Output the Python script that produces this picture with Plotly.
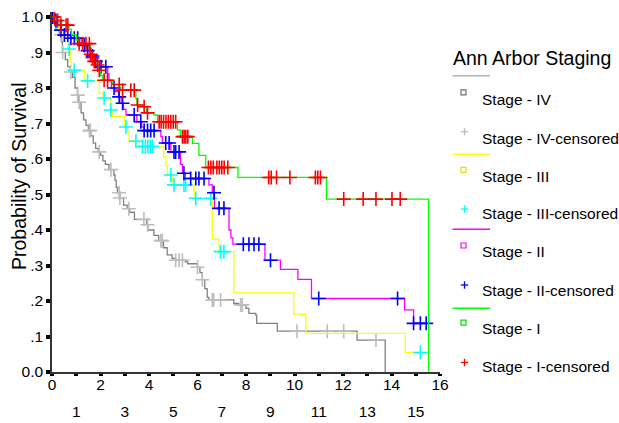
import numpy as np
import plotly.graph_objects as go

# ---------------- data ----------------
# Stage IV : step times and survival after each step
iv_t = [0, 0.1, 0.2, 0.3, 0.4, 0.43, 0.55, 0.65, 0.75, 0.85, 0.95, 1.05, 1.1, 1.2, 1.3, 1.4, 1.5,
        1.6, 1.7, 1.8, 1.9, 2.0, 2.1, 2.2, 2.35, 2.55, 2.6, 2.65, 2.7, 2.8, 2.95, 3.1, 3.2, 3.4,
        3.9, 3.95, 4.2, 4.4, 4.6, 4.75, 4.95, 5.1, 5.5, 5.6, 6.0, 6.1, 6.2, 6.3, 6.4, 6.47, 7.5,
        7.7, 8.0, 8.12, 8.4, 8.44, 9.29, 12.58, 13.74]
iv_s = [1.0, 0.98, 0.965, 0.95, 0.93, 0.90, 0.88, 0.86, 0.845, 0.83, 0.80, 0.78, 0.76, 0.73, 0.71,
        0.695, 0.68, 0.665, 0.645, 0.63, 0.62, 0.61, 0.595, 0.585, 0.57, 0.555, 0.54, 0.52, 0.505,
        0.49, 0.47, 0.46, 0.45, 0.43, 0.415, 0.40, 0.385, 0.37, 0.35, 0.33, 0.32, 0.315, 0.31,
        0.305, 0.295, 0.28, 0.26, 0.235, 0.21, 0.203, 0.193, 0.189, 0.179, 0.165, 0.16, 0.137,
        0.115, 0.09, 0.0]
iv_cens = [0.37, 0.44, 0.78, 1.06, 1.12, 1.54, 1.58, 1.95, 2.43, 2.77, 2.8, 3.17, 3.79, 3.94, 4.49,
           4.55, 5.1, 5.24, 5.38, 6.0, 6.2, 6.61, 6.67, 6.95, 7.78, 7.85, 10.1, 11.35, 12.03, 13.36]
iv_end = 13.74

# Stage III
iii_t = [0, 0.15, 0.25, 0.35, 0.55, 0.65, 0.75, 0.8, 1.35, 1.95, 2.1, 2.4, 2.5, 3.0, 3.12, 3.18,
         3.6, 4.6, 4.7, 4.76, 4.95, 5.86, 6.61, 6.89, 7.5, 9.97, 10.47, 14.57]
iii_s = [1.0, 0.985, 0.965, 0.955, 0.94, 0.91, 0.875, 0.85, 0.82, 0.785, 0.772, 0.738, 0.72, 0.69,
         0.677, 0.65, 0.635, 0.606, 0.58, 0.555, 0.527, 0.489, 0.374, 0.339, 0.223, 0.163, 0.109,
         0.055]
iii_cens = [0.1, 0.16, 0.71, 0.92, 1.47, 2.15, 2.43, 3.05, 3.46, 3.73, 3.85, 3.95, 4.05, 4.14, 4.9,
            5.03, 5.44, 5.51, 5.93, 6.54, 6.95, 7.09, 15.19]
iii_end = 15.19

# Stage II
ii_t = [0, 0.1, 0.2, 0.35, 0.5, 0.75, 1.2, 1.4, 1.55, 1.75, 1.95, 2.3, 2.35, 2.45, 2.6, 2.75, 2.85,
        2.95, 3.05, 3.5, 3.7, 3.8, 4.49, 4.55, 4.9, 5.3, 5.38, 5.5, 6.47, 6.61, 6.7, 7.3, 7.38,
        7.46, 8.78, 9.42, 10.14, 10.7, 14.54, 14.91]
ii_s = [1.0, 0.99, 0.977, 0.963, 0.949, 0.94, 0.92, 0.905, 0.89, 0.875, 0.86, 0.84, 0.82, 0.80,
        0.79, 0.775, 0.757, 0.74, 0.724, 0.705, 0.69, 0.68, 0.663, 0.645, 0.62, 0.585, 0.56, 0.545,
        0.527, 0.505, 0.461, 0.40, 0.378, 0.36, 0.315, 0.289, 0.261, 0.207, 0.175, 0.137]
ii_cens = [0.03, 0.16, 0.37, 0.51, 0.65, 0.78, 0.92, 1.06, 1.33, 1.47, 1.67, 1.81, 2.02, 2.22, 2.56,
           2.77, 2.91, 3.39, 3.66, 3.8, 3.94, 4.07, 4.21, 4.69, 4.83, 5.03, 5.1, 5.24, 5.44, 5.72,
           5.93, 6.06, 6.27, 6.68, 6.89, 7.09, 7.89, 8.12, 8.33, 8.53, 9.01, 11.0, 14.25, 14.91,
           15.19, 15.43]
ii_end = 15.55

# Stage I
i_t = [0, 0.15, 0.3, 0.7, 0.8, 1.0, 1.1, 1.58, 1.65, 1.72, 1.85, 1.92, 2.0, 2.1, 2.5, 2.8, 3.46,
       3.5, 3.7, 3.9, 4.2, 4.35, 5.17, 5.3, 5.79, 6.06, 6.34, 7.67, 11.32, 15.53]
i_s = [1.0, 0.99, 0.977, 0.965, 0.95, 0.935, 0.925, 0.895, 0.885, 0.875, 0.865, 0.85, 0.835, 0.822,
       0.81, 0.794, 0.771, 0.752, 0.747, 0.73, 0.724, 0.705, 0.682, 0.663, 0.644, 0.61, 0.576,
       0.548, 0.487, 0.0]
i_cens = [0.1, 0.23, 0.37, 0.58, 0.65, 1.12, 1.26, 1.4, 1.54, 1.6, 1.67, 1.74, 1.88, 1.95, 2.15,
          2.29, 2.77, 2.91, 3.25, 3.39, 3.53, 3.8, 3.94, 4.42, 4.5, 4.6, 4.7, 4.8, 4.9, 5.0, 5.1,
          5.38, 5.45, 5.52, 5.6, 6.45, 6.55, 6.65, 6.8, 6.9, 7.0, 7.1, 7.25, 8.94, 9.04, 9.26, 9.81,
          10.86, 10.96, 11.07, 12.03, 12.83, 13.36, 14.02, 14.36]
i_end = 15.53

stage_names = ["Stage - IV", "Stage - III", "Stage - II", "Stage - I"]
line_colors = ["#808080", "#FFFF00", "#FF00FF", "#00FF00"]
cens_colors = ["#BDBDBD", "#00FFFF", "#0000FF", "#FF0000"]
legend_line_colors = ["#B4B4B4", "#FFFF00", "#FF00FF", "#00FF00"]
square_colors = ["#707070", "#E0E000", "#FF00FF", "#00E000"]

x_even = list(range(0, 17, 2))
x_odd = list(range(1, 16, 2))
y_ticks = [0, 0.1, 0.2, 0.3, 0.4, 0.5, 0.6, 0.7, 0.8, 0.9, 1.0]
y_labels = ["0.0", ".1", ".2", ".3", ".4", ".5", ".6", ".7", ".8", ".9", "1.0"]

stages = [(iv_t, iv_s, iv_cens, iv_end), (iii_t, iii_s, iii_cens, iii_end),
          (ii_t, ii_s, ii_cens, ii_end), (i_t, i_s, i_cens, i_end)]

# ---------------- figure ----------------
W, H = 619, 423
L, R, T, B = 52, 179, 12, 51
PW, PH = W - L - R, H - T - B


def px_x(p):
    return (p - L) / PW


def px_y(p):
    return (H - B - p) / PH


def surv_at(ts, ss, c):
    ts = np.asarray(ts, float)
    ss = np.asarray(ss, float)
    idx = np.searchsorted(ts, np.asarray(c, float), side="right") - 1
    return ss[idx]


fig = go.Figure()
for k, (ts, ss, cens, end) in enumerate(stages):
    xs = list(ts)
    ys = list(ss)
    if end > xs[-1]:
        xs.append(end)
        ys.append(ys[-1])
    fig.add_trace(go.Scatter(x=xs, y=ys, mode="lines", line=dict(color=line_colors[k], width=1.3, shape="hv"),
                             name=stage_names[k], showlegend=False, hoverinfo="skip"))
    # the last censored series sits on the overlaying odd-label axis (same range) so that axis is drawn
    fig.add_trace(go.Scatter(x=cens, y=surv_at(ts, ss, cens), mode="markers",
                             xaxis="x2" if k == 3 else "x",
                             marker=dict(symbol="cross-thin", size=10, line=dict(color=cens_colors[k], width=1.6)),
                             name=stage_names[k] + "-censored", showlegend=False, hoverinfo="skip"))

font = "Liberation Sans, Arial, sans-serif"

# manual legend (layout positions in pixels)
leg_line_y = [75.7, 154.3, 229.3, 308.3]
leg_sq_y = [92.3, 169.8, 245.5, 322.7]
leg_t1_y = [99.3, 176.3, 251.5, 328.5]
leg_pl_y = [131.7, 209.0, 285.0, 362.5]
leg_t2_y = [138.3, 213.5, 290.7, 366.0]
shapes = []
annotations = []
annotations.append(dict(text="Ann Arbor Staging", x=px_x(451), y=px_y(58.5), xref="paper", yref="paper",
                        xanchor="left", yanchor="middle", showarrow=False,
                        font=dict(family=font, size=19.5, color="black")))
for k in range(4):
    shapes.append(dict(type="line", xref="paper", yref="paper", x0=px_x(452.5), x1=px_x(490),
                       y0=px_y(leg_line_y[k]), y1=px_y(leg_line_y[k]),
                       line=dict(color=legend_line_colors[k], width=1.6)))
    shapes.append(dict(type="rect", xref="paper", yref="paper", x0=px_x(461), x1=px_x(466),
                       y0=px_y(leg_sq_y[k] + 2.5), y1=px_y(leg_sq_y[k] - 2.5),
                       line=dict(color=square_colors[k], width=1.2)))
    shapes.append(dict(type="line", xref="paper", yref="paper", x0=px_x(460.8), x1=px_x(468.2),
                       y0=px_y(leg_pl_y[k]), y1=px_y(leg_pl_y[k]),
                       line=dict(color=cens_colors[k], width=1.3)))
    shapes.append(dict(type="line", xref="paper", yref="paper", x0=px_x(464.5), x1=px_x(464.5),
                       y0=px_y(leg_pl_y[k] - 3.7), y1=px_y(leg_pl_y[k] + 3.7),
                       line=dict(color=cens_colors[k], width=1.3)))
    annotations.append(dict(text=stage_names[k], x=px_x(480), y=px_y(leg_t1_y[k]), xref="paper", yref="paper",
                            xanchor="left", yanchor="middle", showarrow=False,
                            font=dict(family=font, size=15.5, color="black")))
    annotations.append(dict(text=stage_names[k] + "-censored", x=px_x(480), y=px_y(leg_t2_y[k]),
                            xref="paper", yref="paper", xanchor="left", yanchor="middle", showarrow=False,
                            font=dict(family=font, size=15.5, color="black")))

annotations.append(dict(text="Probability of Survival", x=px_x(19), y=px_y(176), xref="paper", yref="paper",
                        xanchor="center", yanchor="middle", textangle=-90, showarrow=False,
                        font=dict(family=font, size=19.5, color="black")))

fig.update_layout(
    width=W, height=H, margin=dict(l=L, r=R, t=T, b=B, autoexpand=False),
    paper_bgcolor="white", plot_bgcolor="white", showlegend=False,
    font=dict(family=font, size=15.5, color="black"),
    xaxis=dict(range=[0, 16], tickvals=x_even, ticktext=[str(v) for v in x_even], automargin=False,
               showgrid=False, zeroline=False, showline=True, linecolor="#333333", linewidth=1.5,
               ticks="outside", ticklen=2, tickwidth=4, tickcolor="black", ticklabelstandoff=-4,
               minor=dict(tickvals=x_odd, ticks="outside", ticklen=2, tickwidth=4, tickcolor="black"),
               tickfont=dict(family=font, size=15.5, color="black")),
    xaxis2=dict(range=[0, 16], overlaying="x", anchor="y", side="bottom", automargin=False,
                tickvals=x_odd, ticktext=[str(v) for v in x_odd],
                showgrid=False, zeroline=False, showline=False, ticks="",
                ticklabelstandoff=28,
                tickfont=dict(family=font, size=15.5, color="black")),
    yaxis=dict(range=[0, PH / 355.0], tickvals=y_ticks, ticktext=y_labels, automargin=False,
               showgrid=False, zeroline=False, showline=True, linecolor="#333333", linewidth=1.5,
               ticks="outside", ticklen=4, tickwidth=4, tickcolor="black",
               tickfont=dict(family=font, size=15.5, color="black")),
    shapes=shapes, annotations=annotations,
)

fig.write_html("out.html")
